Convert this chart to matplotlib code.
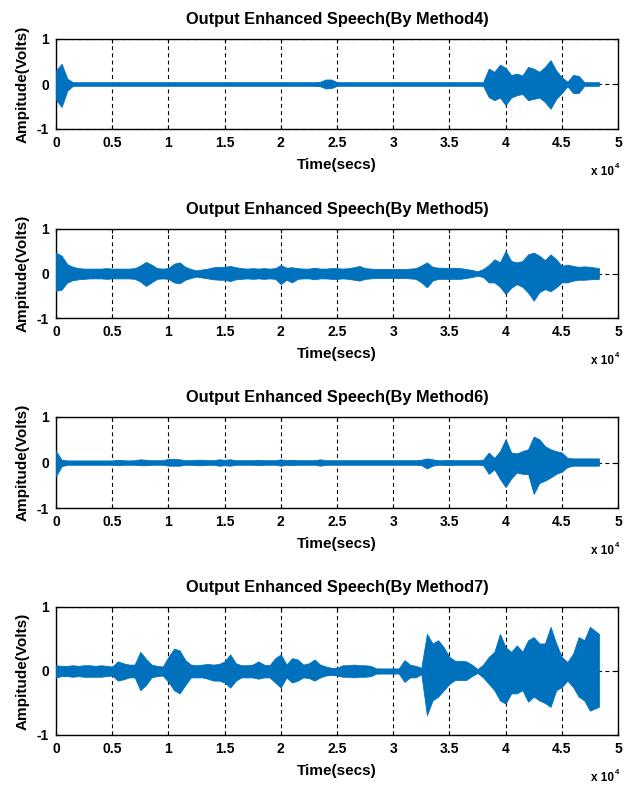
import numpy as np
import matplotlib
matplotlib.use("Agg")
import matplotlib.pyplot as plt
from matplotlib.ticker import FuncFormatter, FixedLocator

plt.rcParams['font.family'] = ['Liberation Sans', 'DejaVu Sans']
plt.rcParams['font.weight'] = 'bold'

# ---------------- data (envelope of each waveform, every 500 samples) --------------
time_samples = list(range(0, 48000, 500)) + [48300]

titles = ["Output Enhanced Speech(By Method4)",
          "Output Enhanced Speech(By Method5)",
          "Output Enhanced Speech(By Method6)",
          "Output Enhanced Speech(By Method7)"]

m4_upper = [0.30, 0.45, 0.12, 0.04, 0.04, 0.04, 0.04, 0.04, 0.04, 0.04,
            0.04, 0.04, 0.04, 0.04, 0.04, 0.04, 0.04, 0.04, 0.04, 0.04,
            0.04, 0.04, 0.04, 0.04, 0.04, 0.04, 0.04, 0.04, 0.04, 0.04,
            0.04, 0.04, 0.04, 0.04, 0.04, 0.04, 0.04, 0.04, 0.04, 0.04,
            0.04, 0.04, 0.04, 0.04, 0.04, 0.04, 0.04, 0.05, 0.10, 0.10,
            0.04, 0.04, 0.04, 0.04, 0.04, 0.04, 0.04, 0.04, 0.04, 0.04,
            0.04, 0.04, 0.04, 0.04, 0.04, 0.04, 0.04, 0.04, 0.04, 0.04,
            0.04, 0.04, 0.04, 0.04, 0.04, 0.04, 0.04, 0.34, 0.27, 0.43,
            0.36, 0.20, 0.23, 0.19, 0.38, 0.34, 0.27, 0.38, 0.53, 0.30,
            0.15, 0.05, 0.20, 0.18, 0.04, 0.04, 0.04]
m4_lower = [-0.35, -0.51, -0.15, -0.04, -0.04, -0.04, -0.04, -0.04, -0.04, -0.04,
            -0.04, -0.04, -0.04, -0.04, -0.04, -0.04, -0.04, -0.04, -0.04, -0.04,
            -0.04, -0.04, -0.04, -0.04, -0.04, -0.04, -0.04, -0.04, -0.04, -0.04,
            -0.04, -0.04, -0.04, -0.04, -0.04, -0.04, -0.04, -0.04, -0.04, -0.04,
            -0.04, -0.04, -0.04, -0.04, -0.04, -0.04, -0.04, -0.05, -0.10, -0.09,
            -0.04, -0.04, -0.04, -0.04, -0.04, -0.04, -0.04, -0.04, -0.04, -0.04,
            -0.04, -0.04, -0.04, -0.04, -0.04, -0.04, -0.04, -0.04, -0.04, -0.04,
            -0.04, -0.04, -0.04, -0.04, -0.04, -0.04, -0.04, -0.29, -0.36, -0.30,
            -0.47, -0.30, -0.25, -0.22, -0.36, -0.33, -0.30, -0.40, -0.55, -0.33,
            -0.20, -0.05, -0.20, -0.20, -0.04, -0.04, -0.04]

m5_upper = [0.47, 0.40, 0.21, 0.15, 0.12, 0.11, 0.11, 0.11, 0.11, 0.12,
            0.11, 0.11, 0.11, 0.11, 0.12, 0.18, 0.26, 0.20, 0.12, 0.11,
            0.12, 0.22, 0.25, 0.15, 0.10, 0.07, 0.09, 0.11, 0.14, 0.15,
            0.15, 0.17, 0.14, 0.12, 0.11, 0.12, 0.11, 0.12, 0.11, 0.12,
            0.19, 0.13, 0.14, 0.12, 0.11, 0.11, 0.13, 0.11, 0.11, 0.12,
            0.12, 0.11, 0.12, 0.14, 0.17, 0.12, 0.11, 0.10, 0.10, 0.10,
            0.10, 0.10, 0.10, 0.11, 0.12, 0.18, 0.25, 0.15, 0.13, 0.13,
            0.12, 0.13, 0.12, 0.10, 0.08, 0.05, 0.10, 0.19, 0.32, 0.25,
            0.51, 0.28, 0.25, 0.28, 0.43, 0.47, 0.40, 0.30, 0.43, 0.32,
            0.17, 0.20, 0.17, 0.15, 0.16, 0.15, 0.12]
m5_lower = [-0.39, -0.36, -0.20, -0.15, -0.13, -0.12, -0.11, -0.11, -0.11, -0.12,
            -0.11, -0.11, -0.11, -0.11, -0.12, -0.18, -0.28, -0.20, -0.12, -0.11,
            -0.12, -0.20, -0.22, -0.14, -0.10, -0.07, -0.09, -0.11, -0.13, -0.14,
            -0.14, -0.17, -0.13, -0.12, -0.11, -0.12, -0.11, -0.12, -0.11, -0.12,
            -0.24, -0.14, -0.20, -0.12, -0.11, -0.11, -0.13, -0.11, -0.11, -0.12,
            -0.12, -0.11, -0.12, -0.14, -0.16, -0.12, -0.11, -0.10, -0.10, -0.10,
            -0.10, -0.10, -0.10, -0.11, -0.12, -0.20, -0.31, -0.16, -0.12, -0.12,
            -0.12, -0.12, -0.12, -0.10, -0.08, -0.05, -0.08, -0.20, -0.20, -0.30,
            -0.46, -0.32, -0.24, -0.30, -0.43, -0.61, -0.42, -0.35, -0.40, -0.31,
            -0.20, -0.20, -0.16, -0.14, -0.14, -0.13, -0.12]

m6_upper = [0.25, 0.06, 0.045, 0.045, 0.045, 0.045, 0.045, 0.045, 0.045, 0.045,
            0.045, 0.06, 0.05, 0.045, 0.05, 0.07, 0.06, 0.05, 0.05, 0.05,
            0.08, 0.08, 0.07, 0.05, 0.05, 0.06, 0.06, 0.05, 0.05, 0.07,
            0.06, 0.07, 0.05, 0.05, 0.05, 0.05, 0.06, 0.05, 0.05, 0.05,
            0.07, 0.05, 0.06, 0.05, 0.05, 0.05, 0.05, 0.07, 0.05, 0.05,
            0.05, 0.05, 0.05, 0.05, 0.05, 0.05, 0.05, 0.05, 0.05, 0.05,
            0.05, 0.05, 0.05, 0.05, 0.05, 0.06, 0.09, 0.07, 0.05, 0.05,
            0.06, 0.05, 0.05, 0.05, 0.05, 0.05, 0.06, 0.22, 0.10, 0.25,
            0.51, 0.22, 0.20, 0.25, 0.29, 0.57, 0.51, 0.36, 0.29, 0.25,
            0.22, 0.10, 0.09, 0.09, 0.09, 0.09, 0.09]
m6_lower = [-0.30, -0.08, -0.05, -0.05, -0.05, -0.05, -0.05, -0.05, -0.05, -0.05,
            -0.05, -0.06, -0.05, -0.05, -0.05, -0.06, -0.06, -0.05, -0.05, -0.05,
            -0.07, -0.07, -0.07, -0.05, -0.05, -0.06, -0.06, -0.05, -0.05, -0.07,
            -0.06, -0.07, -0.05, -0.05, -0.05, -0.05, -0.06, -0.05, -0.05, -0.05,
            -0.07, -0.05, -0.06, -0.05, -0.05, -0.05, -0.05, -0.07, -0.05, -0.05,
            -0.05, -0.05, -0.05, -0.05, -0.05, -0.05, -0.05, -0.05, -0.05, -0.05,
            -0.05, -0.05, -0.05, -0.05, -0.05, -0.06, -0.13, -0.07, -0.05, -0.05,
            -0.06, -0.05, -0.05, -0.05, -0.05, -0.05, -0.06, -0.25, -0.15, -0.36,
            -0.54, -0.35, -0.22, -0.25, -0.25, -0.69, -0.45, -0.40, -0.33, -0.25,
            -0.20, -0.10, -0.07, -0.07, -0.07, -0.07, -0.07]

m7_upper = [0.09, 0.08, 0.08, 0.09, 0.08, 0.09, 0.09, 0.08, 0.09, 0.08,
            0.07, 0.15, 0.12, 0.10, 0.10, 0.30, 0.19, 0.10, 0.08, 0.07,
            0.22, 0.35, 0.32, 0.17, 0.10, 0.09, 0.10, 0.11, 0.10, 0.11,
            0.15, 0.26, 0.12, 0.09, 0.09, 0.10, 0.15, 0.10, 0.09, 0.20,
            0.26, 0.10, 0.20, 0.18, 0.10, 0.12, 0.18, 0.10, 0.07, 0.05,
            0.05, 0.09, 0.09, 0.10, 0.09, 0.09, 0.08, 0.04, 0.04, 0.04,
            0.04, 0.04, 0.17, 0.10, 0.08, 0.05, 0.58, 0.43, 0.48, 0.37,
            0.22, 0.16, 0.16, 0.15, 0.10, 0.03, 0.10, 0.22, 0.30, 0.58,
            0.37, 0.30, 0.40, 0.30, 0.48, 0.53, 0.43, 0.43, 0.69, 0.43,
            0.22, 0.14, 0.27, 0.53, 0.48, 0.69, 0.58]
m7_lower = [-0.10, -0.08, -0.08, -0.09, -0.08, -0.09, -0.09, -0.09, -0.09, -0.08,
            -0.07, -0.15, -0.13, -0.10, -0.10, -0.30, -0.22, -0.10, -0.08, -0.07,
            -0.17, -0.30, -0.35, -0.22, -0.10, -0.10, -0.10, -0.12, -0.15, -0.15,
            -0.18, -0.26, -0.15, -0.10, -0.10, -0.10, -0.12, -0.10, -0.10, -0.18,
            -0.26, -0.10, -0.18, -0.15, -0.10, -0.11, -0.15, -0.10, -0.07, -0.06,
            -0.07, -0.09, -0.09, -0.10, -0.09, -0.09, -0.08, -0.04, -0.04, -0.04,
            -0.04, -0.04, -0.17, -0.10, -0.10, -0.05, -0.69, -0.46, -0.40, -0.30,
            -0.20, -0.14, -0.14, -0.14, -0.08, -0.03, -0.10, -0.20, -0.30, -0.46,
            -0.51, -0.35, -0.35, -0.30, -0.48, -0.40, -0.46, -0.50, -0.56, -0.30,
            -0.25, -0.15, -0.25, -0.40, -0.46, -0.62, -0.56]

uppers = [m4_upper, m5_upper, m6_upper, m7_upper]
lowers = [m4_lower, m5_lower, m6_lower, m7_lower]

x_ticks = [0, 5000, 10000, 15000, 20000, 25000, 30000, 35000, 40000, 45000, 50000]
y_ticks = [-1, 0, 1]

# ---------------- figure -------------------------------------------------------------
W, H = 635, 785
fig = plt.figure(figsize=(W / 100, H / 100), dpi=100)

# axes boxes in pixels: (left, top, right, bottom)
boxes = [(56, 39, 618, 129), (56, 229, 618, 318), (56, 417, 618, 508), (56, 607, 618, 735)]
blue = '#0072BD'

for i, (l, t, r, b) in enumerate(boxes):
    ax = fig.add_axes([l / W, (H - b) / H, (r - l) / W, (b - t) / H])
    ax.fill_between(time_samples, lowers[i], uppers[i], color=blue, linewidth=0.6,
                    edgecolor=blue, zorder=3)
    ax.set_xlim(0, 50000)
    ax.set_ylim(-1, 1)
    ax.xaxis.set_major_locator(FixedLocator(x_ticks))
    ax.yaxis.set_major_locator(FixedLocator(y_ticks))
    ax.xaxis.set_major_formatter(FuncFormatter(lambda v, p: '%g' % (v / 1e4)))
    ax.yaxis.set_major_formatter(FuncFormatter(lambda v, p: '%g' % v))
    ax.grid(True, color='black', linestyle=(0, (3.5, 3)), linewidth=0.8, zorder=1)
    ax.set_axisbelow(True)
    ax.tick_params(direction='in', length=3, width=0.8, labelsize=10, pad=5,
                   top=True, right=True)
    for lab in ax.get_xticklabels() + ax.get_yticklabels():
        lab.set_fontweight('bold')
    for s in ax.spines.values():
        s.set_linewidth(1.0)
        s.set_color('black')
    ax.set_title(titles[i], fontsize=11.8, fontweight='bold', pad=11)
    ax.set_xlabel('Time(secs)', fontsize=11, fontweight='bold', labelpad=6)
    ax.set_ylabel('Ampitude(Volts)', fontsize=11, fontweight='bold', labelpad=5)
    ax.annotate('x 10', xy=(1.0, 0.0), xycoords='axes fraction',
                xytext=(-3, -31), textcoords='offset points',
                ha='right', va='center', fontsize=8.5, fontweight='bold')
    ax.annotate('4', xy=(1.0, 0.0), xycoords='axes fraction',
                xytext=(-2.5, -27), textcoords='offset points',
                ha='left', va='center', fontsize=5.5, fontweight='bold')

fig.savefig('out.png', dpi=100)
